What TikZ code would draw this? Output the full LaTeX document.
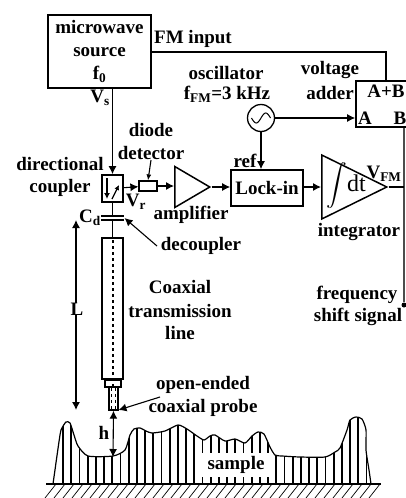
\documentclass[tikz,border=0pt]{standalone}
\usepackage{exscale}
\usepackage{fontspec}
\setmainfont{Liberation Serif}
\usetikzlibrary{arrows.meta,shapes.geometric}

\tikzset{
  lbl/.style={inner sep=0pt,font=\fontsize{19}{23}\selectfont\bfseries,align=center},
  blockbox/.style={draw,line width=1.7pt,rectangle,inner sep=0pt,font=\fontsize{19}{23}\selectfont\bfseries,align=center},
  ampl/.style={draw,line width=1.5pt,isosceles triangle,isosceles triangle stretches,inner sep=0pt,anchor=lower side},
  wire/.style={line width=1.1pt},
  feed/.style={line width=1.1pt,-{Latex[length=8pt,width=8pt]}},
  both/.style={line width=1.1pt,{Latex[length=8pt,width=8pt]}-{Latex[length=8pt,width=8pt]}},
}

\begin{document}
\begin{tikzpicture}[x=1pt,y=-1pt]
        \clip (0,0) rectangle (406,498);
        % blocks
        \node[blockbox,minimum width=103pt,minimum height=73pt] (source) at (99.5,51.5) {microwave\\source\\f\textsubscript{0}};
        \node[blockbox,minimum width=21pt,minimum height=27pt] (coupler) at (112.5,188.5) {};
        \node[blockbox,line width=1.2pt,minimum width=18pt,minimum height=10pt] (diode) at (148,186) {};
        \node[ampl,minimum height=35pt,minimum width=41pt] (amp) at (174,187) {};
        \node[blockbox,minimum width=72pt,minimum height=36pt] (lockin) at (267,188) {Lock-in};
        \node[ampl,minimum height=65pt,minimum width=64pt] (integ) at (321,187) {};
        \node[blockbox,minimum width=60pt,minimum height=46pt] (adder) at (386,104) {};
        \node[draw,line width=1.3pt,circle,minimum size=27pt,inner sep=0pt] (osc) at (261,118) {};
        \draw[line width=1pt,domain=-1:1,smooth,variable=\x] plot({261+9.5*\x}, {118-5*sin(180*\x)});

        % coaxial line and probe
        \node[draw,line width=1.5pt,minimum width=21pt,minimum height=141pt,inner sep=0pt] (coax) at (112.5,308.5) {};
        \node[draw,line width=1.4pt,minimum width=16pt,minimum height=7pt,inner sep=0pt] (collar) at (113,383.5) {};
        \node[draw,line width=1.4pt,minimum width=9pt,minimum height=23pt,inner sep=0pt] (probe) at (113.5,398.5) {};
        \draw[wire,dashed,line width=1.2pt] (113,240) -- (113,386);
        \draw[wire,dashed] (111.5,388) -- (111.5,409);
        \draw[wire,dashed] (115.5,388) -- (115.5,409);

        % capacitor
        \coordinate (capa) at (112.5,216);
        \coordinate (capb) at (112.5,220);
        \draw[line width=1.2pt] (101,216) -- (124,216);
        \draw[line width=1.2pt] (101,220) -- (124,220);
        \draw[wire] (coupler) -- (capa);
        \draw[wire] (capb) -- (coax);

        % inside the coupler
        \draw[line width=1.3pt,-{Latex[length=6pt,width=6pt]}] (107,178) -- (107,199);
        \draw[line width=1.3pt,-{Latex[length=5pt,width=5pt]}] (112,199) -- (119,185);

        % signal path
        \draw[feed] (source.south -| coupler) -- (coupler);
        \draw[feed] (coupler) -- (diode);
        \draw[feed] (diode) -- (amp.lower side |- diode);
        \draw[feed] (amp.apex) -- (lockin.west |- amp.apex);
        \draw[feed] (lockin.east |- integ.apex) -- (integ.lower side);
        \draw[feed] (osc) -- (osc -| adder.west);
        \draw[feed] (osc) -- (osc |- lockin.north);
        \coordinate (fmturn) at (386,52);
        \draw[wire] (source.east |- fmturn) -- (fmturn) -- (fmturn |- adder.north);
        \node[fill=black,circle,minimum size=5pt,inner sep=0pt] (outdot) at (404,305) {};
        \draw[line width=1.4pt,black!70] (outdot |- adder.south) -- (outdot);
        \draw[wire] (integ.apex) -- (integ.apex -| outdot);

        % pointers
        \coordinate (detlabel) at (151,160);
        \coordinate (declabel) at (157,246);
        \coordinate (problabel) at (160,397);
        \draw[feed,-{Latex[length=6pt,width=5pt]}] (detlabel) -- (diode.north);
        \draw[feed] (declabel) -- (124.5,218);
        \draw[feed] (problabel) -- (118.5,410);

        % dimensions
        \coordinate (ltop) at (76,220);
        \coordinate (lbot) at (76,410);
        \coordinate (hbot) at (113,457);
        \draw[both] (ltop) -- (lbot);
        \draw[both] (probe.south) -- (hbot);

        % sample
        \def\surface{(53,484) (60,435) (62,428) (66,422) (70,423) (74,435) (78,446) (88,456) (113,456) (125,450) (130,435) (134,429) (140,428) (146,431) (152,433) (165,431) (178,425) (187,429) (197,436) (204,440) (210,436) (215,435) (225,441) (235,439) (245,443) (252,436) (258,432) (264,434) (270,447) (275,455) (282,456) (300,457) (325,457) (335,452) (340,448) (347,430) (350,420) (356,417) (362,419) (366,430) (366,450) (369,470) (371,484)}
        \begin{scope}
            \clip plot[smooth,tension=0.4] coordinates {\surface} -- cycle;
            \foreach \k in {0,...,37}
                \draw[line width=1.8pt] ({63+8.2*\k},410) -- ({63+8.2*\k},484);
        \end{scope}
        \draw[line width=1.2pt] plot[smooth,tension=0.4] coordinates {\surface};
        \node[lbl,fill=white,minimum width=74pt,minimum height=24pt] (sample) at (236,465) {sample};
        \coordinate (basea) at (46,484);
        \coordinate (baseb) at (381,484);
        \foreach \x in {56,65,...,382}
            \draw[line width=0.7pt] (\x,484) -- ({\x-11},498);
        \draw[line width=2.4pt] (basea) -- (baseb);

        % labels
        \node[lbl] (fminput) at (193,39) {FM input};
        \node[lbl] (vslabel) at (100,98) {V\textsubscript{s}};
        \node[lbl] (diodelabel) at (151,130) {diode};
        \node[lbl] (detectlabel) at (151,153) {detector};
        \node[lbl] (dirlabel) at (60,164) {directional};
        \node[lbl] (couplabel) at (60,188) {coupler};
        \node[lbl] (vrlabel) at (136,202) {V\textsubscript{r}};
        \node[lbl] (amplabel) at (191,215) {amplifier};
        \node[lbl] (cdlabel) at (90,218) {C\textsubscript{d}};
        \node[lbl] (decouplabel) at (201,246) {decoupler};
        \node[lbl] (coaxlabel) at (180,287) {Coaxial};
        \node[lbl] (translabel) at (180,311) {transmission};
        \node[lbl] (linelabel) at (180,333) {line};
        \node[lbl,fill=white] (llabel) at (77,309) {L};
        \node[lbl] (hlabel) at (104,433) {h};
        \node[lbl] (openlabel) at (203,385) {open-ended};
        \node[lbl] (problab) at (203,408) {coaxial probe};
        \node[lbl] (osclabel) at (226,73) {oscillator};
        \node[lbl] (freqlabel) at (227,94) {f\textsubscript{FM}=3 kHz};
        \node[lbl] (voltlabel) at (330,70) {voltage};
        \node[lbl] (addlabel) at (330,93) {adder};
        \node[lbl] (abtext) at (386,91) {A+B};
        \node[lbl] (atext) at (365,118) {A};
        \node[lbl] (btext) at (400,118) {B};
        \node[lbl] (reflabel) at (245,161) {ref};
        \node[lbl] (vfmlabel) at (384,174) {V\textsubscript{FM}};
        \node[lbl] (intlabel) at (359,232) {integrator};
        \node[inner sep=0pt] (intdt) at (346,186) {{\fontsize{20}{24}\selectfont$\displaystyle\int$}{\fontsize{24}{24}\selectfont dt}};
        \node[lbl] (fslabel) at (357,295) {frequency};
        \node[lbl] (shiftlabel) at (358,317) {shift signal};
    \end{tikzpicture}
\end{document}
